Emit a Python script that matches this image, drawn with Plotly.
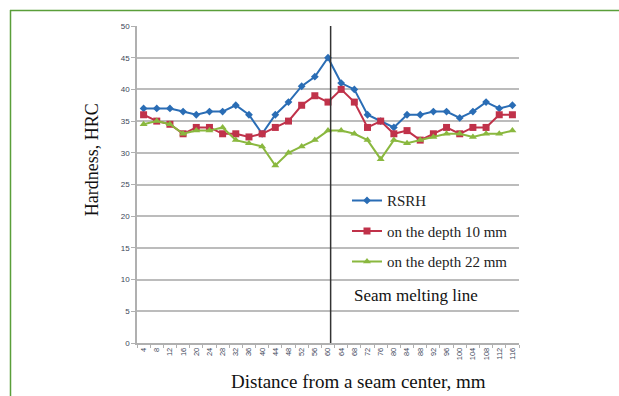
import plotly.graph_objects as go

distance = [4, 8, 12, 16, 20, 24, 28, 32, 36, 40, 44, 48, 52, 56, 60, 64, 68, 72, 76, 80,
            84, 88, 92, 96, 100, 104, 108, 112, 116]
x_labels = [str(d) for d in distance]
rsrh = [37, 37, 37, 36.5, 36, 36.5, 36.5, 37.5, 36, 33, 36, 38, 40.5, 42, 45, 41, 40, 36, 35, 34,
        36, 36, 36.5, 36.5, 35.5, 36.5, 38, 37, 37.5]
depth10 = [36, 35, 34.5, 33, 34, 34, 33, 33, 32.5, 33, 34, 35, 37.5, 39, 38, 40, 38, 34, 35, 33,
           33.5, 32, 33, 34, 33, 34, 34, 36, 36]
depth22 = [34.5, 35, 34.5, 33, 33.5, 33.5, 34, 32, 31.5, 31, 28, 30, 31, 32, 33.5, 33.5, 33, 32, 29, 32,
           31.5, 32, 32.5, 33, 33, 32.5, 33, 33, 33.5]
y_ticks = [0, 5, 10, 15, 20, 25, 30, 35, 40, 45, 50]
seam_line_at = "60"

series = [
    ("RSRH", rsrh, "#2a6db5", "diamond", 6),
    ("on the depth 10 mm", depth10, "#c0324a", "square", 7),
    ("on the depth 22 mm", depth22, "#8ab83f", "triangle-up", 7),
]

serif = "Liberation Serif, Times New Roman, serif"

# plot area in pixels
PL, PR, PT, PB = 137, 519, 26, 342.7
W, H = 619, 396
pw, ph = PR - PL, PB - PT


def px(x):
    return (x - PL) / pw


def py(y):
    return (PB - y) / ph


fig = go.Figure()
for i, (name, vals, col, sym, sz) in enumerate(series):
    fig.add_trace(go.Scatter(
        x=x_labels, y=vals, name=name, mode="lines+markers",
        line=dict(color=col, width=2),
        marker=dict(symbol=sym, size=sz, color=col),
        legendgroup=f"g{i}",
    ))

idx = x_labels.index(seam_line_at)
fig.add_shape(type="line", xref="x", yref="y", x0=idx + 0.2, x1=idx + 0.2, y0=0, y1=50.6,
              line=dict(color="#333333", width=1.5))

# green frame
fig.add_shape(type="line", xref="paper", yref="paper", x0=px(10), x1=px(W + 5), y0=py(10.5), y1=py(10.5),
              line=dict(color="#5a9e3a", width=1.5))
fig.add_shape(type="line", xref="paper", yref="paper", x0=px(10.5), x1=px(10.5), y0=py(H + 5), y1=py(10),
              line=dict(color="#5a9e3a", width=1.5))

fig.update_layout(
    width=W, height=H,
    margin=dict(l=PL, r=W - PR, t=PT, b=H - PB),
    paper_bgcolor="white", plot_bgcolor="white",
    showlegend=True,
    legend=dict(x=px(347), y=py(184), xanchor="left", yanchor="top",
                font=dict(family=serif, size=15, color="#222222"),
                bgcolor="rgba(0,0,0,0)", tracegroupgap=8, itemwidth=30),
    xaxis=dict(type="category", range=[-0.5, 28.5], showgrid=False, automargin=False,
               showline=True, linecolor="#b0b0b0", linewidth=1.5,
               ticks="outside", ticklen=3, tickcolor="#b0b0b0", tickson="boundaries",
               tickangle=-90, tickfont=dict(family="Liberation Sans, Arial", size=7.5, color="#3c4658")),
    yaxis=dict(range=[0, 50], tickvals=y_ticks, showgrid=True, gridcolor="#bcbcbc", gridwidth=1.5,
               showline=True, linecolor="#b0b0b0", linewidth=1.5, automargin=False,
               ticks="outside", ticklen=4, tickcolor="#b0b0b0",
               tickfont=dict(family="Liberation Sans, Arial", size=8, color="#3c4658"),
               zeroline=False),
)

fig.add_annotation(text="Distance from a seam center, mm", xref="paper", yref="paper",
                   x=px(358), y=py(381), xanchor="center", yanchor="middle", showarrow=False,
                   font=dict(family=serif, size=19, color="#111111"))
fig.add_annotation(text="Hardness, HRC", xref="paper", yref="paper",
                   x=px(92), y=py(160), xanchor="center", yanchor="middle", showarrow=False, textangle=-90,
                   font=dict(family=serif, size=18, color="#111111"))
fig.add_annotation(text="Seam melting line", xref="paper", yref="paper",
                   x=px(352), y=py(295), xanchor="left", yanchor="middle", showarrow=False,
                   font=dict(family=serif, size=17, color="#111111"))

fig.write_html("out.html", config={"displayModeBar": False},
               post_script="document.body.style.margin='0';document.body.style.overflow='hidden';")
